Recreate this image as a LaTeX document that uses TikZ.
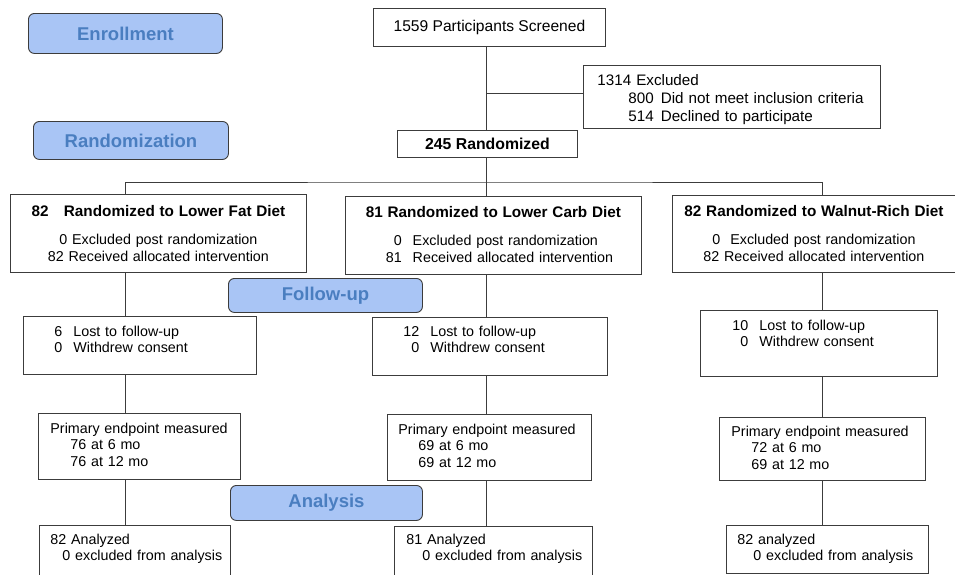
\documentclass[tikz,border=0pt]{standalone}
\usepackage{fontspec}
\setmainfont{Liberation Sans}
\usetikzlibrary{positioning}

\definecolor{stagefill}{HTML}{A9C5F5}
\definecolor{stagetext}{HTML}{4A7EC0}
\definecolor{edge}{HTML}{3C3C3C}
\newcommand{\bodyfont}{\fontsize{14.3}{16.5}\selectfont}
\newcommand{\headfont}{\fontsize{15.3}{16.5}\selectfont\bfseries}
\newcommand{\rows}[2]{\begin{tabular}[t]{@{\hspace{#1}}l@{}}#2\end{tabular}}
\newcommand{\tally}[2]{\begin{tabular}[t]{@{\hspace{#1}}r@{\hspace{11pt}}l@{}}#2\end{tabular}}

\begin{document}
\begin{tikzpicture}
		[x=1pt,y=-1pt,
		stage/.style={rectangle,rounded corners=6pt,draw=edge,fill=stagefill,line width=0.9pt,anchor=north west,inner sep=0pt,text=stagetext,font=\fontsize{18.5}{20}\selectfont\bfseries},
		box/.style={rectangle,draw=edge,line width=0.9pt,anchor=north west,inner sep=0pt,font=\bodyfont},
		note/.style 2 args={box,align=left,text height=#1,text depth=#2},
		arm/.style 2 args={box,align=center,text height=#1,text depth=#2},
		link/.style={draw=edge,line width=0.9pt}]
		\useasboundingbox (0,0) rectangle (955,574);

		% stage labels
		\node [stage,minimum width=194pt,minimum height=40pt] (enroll) at (28,13) {Enrollment};
		\node [stage,minimum width=195pt,minimum height=38pt] (randlab) at (33,121) {Randomization};
		\node [stage,minimum width=194pt,minimum height=34pt] (follow) at (228,278) {Follow-up};
		\node [stage,minimum width=192pt,minimum height=35pt] (analysis) at (230,485) {Analysis};

		% enrollment
		\node [box,minimum width=232pt,minimum height=38pt,font=\fontsize{15.6}{18}\selectfont] (screen) at (373,8) {1559 Participants Screened};
		\node [note={20pt}{43pt},text width=297pt,font=\fontsize{15.2}{18}\selectfont] (excl) at (583,65)
			{\rows{14pt}{1314 Excluded\\
			\hspace*{31pt}800\hspace{7pt}Did not meet inclusion criteria\\
			\hspace*{31pt}514\hspace{7pt}Declined to participate}};
		\node [box,minimum width=180pt,minimum height=27pt,font=\fontsize{15.8}{18}\selectfont\bfseries] (rand) at (397,130) {245 Randomized};

		% allocation
		\node [arm={22pt}{56pt},text width=296pt] (fat1) at (10,194)
			{{\headfont 82\quad Randomized to Lower Fat Diet}\\[12pt]
			0 Excluded post randomization\\
			82 Received allocated intervention};
		\node [arm={21pt}{57pt},text width=296pt] (carb1) at (345,196)
			{{\headfont 81 Randomized to Lower Carb Diet}\\[12pt]
			\hspace*{12pt}\tally{0pt}{0 & Excluded post randomization\\
			81 & Received allocated intervention}};
		\node [arm={21pt}{56pt},text width=283pt] (nut1) at (672,195)
			{{\headfont 82 Randomized to Walnut-Rich Diet}\\[12pt]
			0\hspace{10pt}Excluded post randomization\\
			82 Received allocated intervention};

		% follow-up
		\node [note={20pt}{38pt},text width=233pt] (fat2) at (23,316)
			{\tally{31pt}{6 & Lost to follow-up\\ 0 & Withdrew consent}};
		\node [note={19pt}{39pt},text width=235pt] (carb2) at (372,317)
			{\tally{31pt}{12 & Lost to follow-up\\ 0 & Withdrew consent}};
		\node [note={20pt}{46pt},text width=237pt] (nut2) at (700,310)
			{\tally{32pt}{10 & Lost to follow-up\\ 0 & Withdrew consent}};

		\node [note={20pt}{46pt},text width=202pt] (fat3) at (38,413)
			{\rows{12pt}{Primary endpoint measured\\
			\hspace*{20pt}76 at 6 mo\\ \hspace*{20pt}76 at 12 mo}};
		\node [note={20pt}{46pt},text width=204pt] (carb3) at (387,414)
			{\rows{11pt}{Primary endpoint measured\\
			\hspace*{20pt}69 at 6 mo\\ \hspace*{20pt}69 at 12 mo}};
		\node [note={19pt}{44pt},text width=206pt] (nut3) at (719,417)
			{\rows{12pt}{Primary endpoint measured\\
			\hspace*{20pt}72 at 6 mo\\ \hspace*{20pt}69 at 12 mo}};

		% analysis
		\node [note={19pt}{32pt},text width=191pt] (fat4) at (39,525)
			{\rows{11pt}{82 Analyzed\\ \hspace*{12pt}0 excluded from analysis}};
		\node [note={18pt}{32pt},text width=198pt] (carb4) at (394,526)
			{\rows{12pt}{81 Analyzed\\ \hspace*{16pt}0 excluded from analysis}};
		\node [note={19pt}{29pt},text width=202pt] (nut4) at (726,525)
			{\rows{11pt}{82 analyzed\\ \hspace*{16pt}0 excluded from analysis}};

		% lanes
		\coordinate (colA) at (125,0);
		\coordinate (colB) at (486,0);
		\coordinate (colC) at (822,0);
		\coordinate (hub) at (486,182);

		\draw [link] (colB |- screen.south) -- (colB |- rand.north);
		\draw [link] (colB |- excl.west) ++(0,-4) -- ([yshift=4pt]excl.west);
		\draw [link] (colB |- rand.south) -- (colB |- carb1.north);
		\draw [link] (colA |- fat1.north) |- (hub) -| (colC |- nut1.north);
		\foreach \d/\c in {fat/colA,carb/colB,nut/colC}{
			\draw [link] (\c |- \d1.south) -- (\c |- \d2.north);
			\draw [link] (\c |- \d2.south) -- (\c |- \d3.north);
			\draw [link] (\c |- \d3.south) -- (\c |- \d4.north);
		}

	\end{tikzpicture}
\end{document}
